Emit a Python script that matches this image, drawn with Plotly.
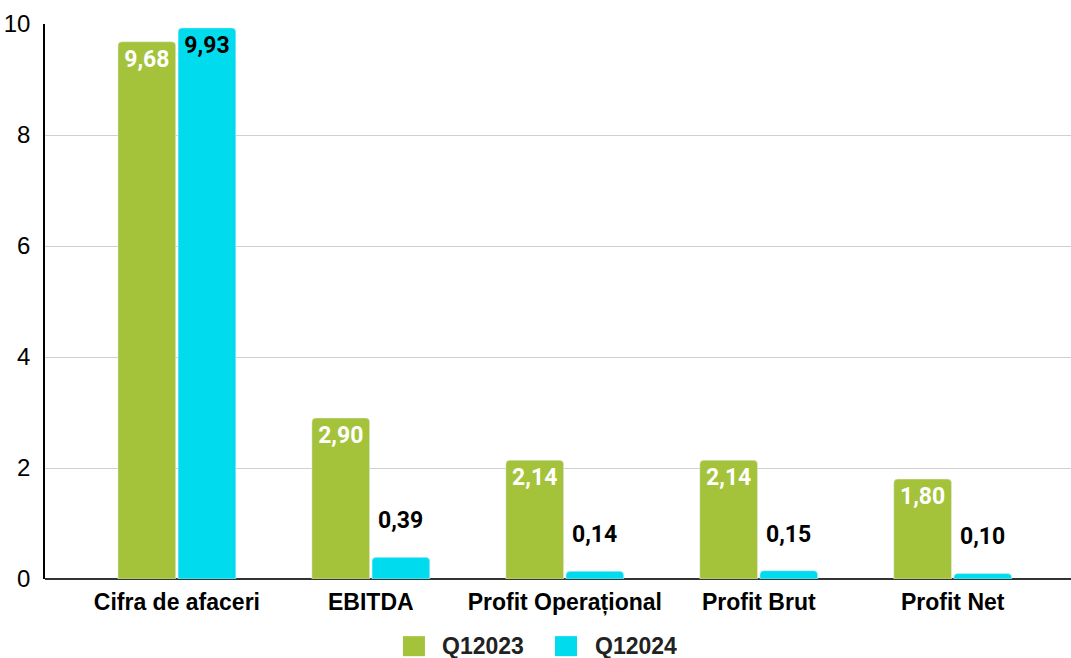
import plotly.graph_objects as go

categories = ["Cifra de afaceri", "EBITDA", "Profit Operațional", "Profit Brut", "Profit Net"]
q2023 = [9.68, 2.90, 2.14, 2.14, 1.80]
q2024 = [9.93, 0.39, 0.14, 0.15, 0.10]
series_names = ["Q12023", "Q12024"]
y_ticks = [0, 2, 4, 6, 8, 10]

GREEN = "#a4c23a"
CYAN = "#00dcee"
colors = [GREEN, CYAN]

BARGAP = 0.38
LABEL_FONT = dict(size=23, family="Roboto", weight="bold")


def fmt(v):
    return f"{v:.2f}".replace(".", ",")


inside2024 = [v > 1 for v in q2024]

fig = go.Figure()
fig.add_trace(go.Bar(
    x=categories, y=q2023, name=series_names[0], showlegend=False,
    marker=dict(color=GREEN, cornerradius=4),
    texttemplate="%{y:.2f}", textposition="inside", insidetextanchor="end",
    textangle=0,
    insidetextfont=dict(color="white", **LABEL_FONT),
))
fig.add_trace(go.Bar(
    x=categories, y=q2024, name=series_names[1], showlegend=False,
    marker=dict(color=CYAN, cornerradius=4),
    texttemplate=["%{y:.2f}" if ins else "" for ins in inside2024],
    textposition="inside", insidetextanchor="end",
    textangle=0,
    insidetextfont=dict(color="black", **LABEL_FONT),
))

# labels above the small Q12024 bars (placed higher than Plotly's default outside text)
x_range = [-0.68, 4.61]
plot_w = 1071 - 45
px_per_unit = plot_w / (x_range[1] - x_range[0])
slot = (1 - BARGAP) / 2
xoff = slot / 2 * px_per_unit
for cat, v, ins in zip(categories, q2024, inside2024):
    if not ins:
        fig.add_annotation(x=cat, y=v, xref="x", yref="y", showarrow=False,
                           xshift=xoff, yshift=21, yanchor="bottom",
                           text=fmt(v), font=dict(color="black", **LABEL_FONT))

# manual legend (larger squares than Plotly's built-in bar legend)
legend_sq_x = [0.3596, 0.5078]
legend_tx_x = [0.386, 0.535]
legend_y = -0.121
for i, name in enumerate(series_names):
    fig.add_shape(type="rect", xref="paper", yref="paper",
                  xsizemode="pixel", ysizemode="pixel",
                  xanchor=legend_sq_x[i], yanchor=legend_y,
                  x0=-11, x1=11, y0=-10, y1=10,
                  fillcolor=colors[i], line=dict(width=0))
    fig.add_annotation(xref="paper", yref="paper", x=legend_tx_x[i], y=legend_y,
                       xanchor="left", yanchor="middle", showarrow=False,
                       text=name, borderpad=0,
                       font=dict(size=23, family="Liberation Sans, Arial", weight="bold", color="#222"))

fig.update_layout(
    width=1071, height=658,
    margin=dict(l=45, r=0, t=24, b=79),
    paper_bgcolor="white", plot_bgcolor="white",
    separators=", ",
    barmode="group", bargap=BARGAP, bargroupgap=0.04,
    font=dict(family="Liberation Sans, Arial", color="black"),
    showlegend=False,
    uniformtext=dict(mode=False),
)
fig.update_xaxes(
    range=x_range, showline=False, showgrid=False, ticks="",
    tickfont=dict(size=23, family="Liberation Sans, Arial", weight="bold", color="black"),
    ticklabelstandoff=7, automargin=False, fixedrange=True,
)
fig.update_yaxes(
    range=[0, 10], tickvals=y_ticks, showgrid=True, gridcolor="#d0d0d0", gridwidth=1,
    showline=True, linecolor="black", linewidth=1.5,
    zeroline=True, zerolinecolor="#333", zerolinewidth=1.5,
    tickfont=dict(size=24, family="Liberation Sans, Arial", color="black"),
    ticks="", ticklabelstandoff=8, automargin=False, fixedrange=True,
)

fig.write_html("out.html", config={"displayModeBar": False},
               post_script="document.body.style.margin='0';document.body.style.overflow='hidden';")
